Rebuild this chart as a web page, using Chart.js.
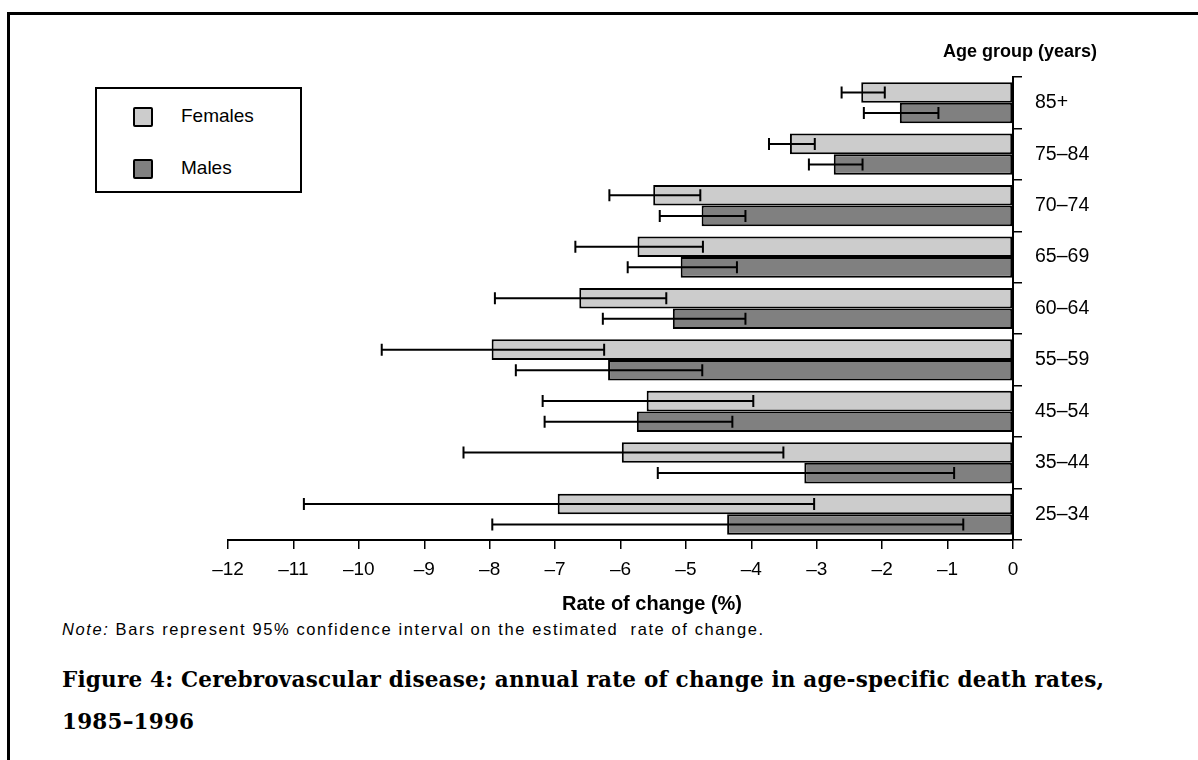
<!DOCTYPE html>
<html>
<head>
<meta charset="utf-8">
<script src="https://cdn.jsdelivr.net/npm/chart.js@4/dist/chart.umd.min.js"></script>
<style>
  body { margin: 0; background: #fff; font-family: "Liberation Sans", Arial, sans-serif; }
  #page { position: relative; width: 1198px; height: 760px; overflow: hidden; }
  #frame { position: absolute; left: 7px; top: 12px; width: 1400px; height: 900px;
           border-top: 3px solid #000; border-left: 3px solid #000; }
  #chart { position: absolute; left: 0; top: 0; }
  #ytitle { position: absolute; left: 943px; top: 41px; font-weight: bold; font-size: 18px; color: #000; }
  #xtitle { position: absolute; left: 552px; width: 200px; top: 592px; text-align: center;
            font-weight: bold; font-size: 20px; color: #000; white-space: nowrap; }
  #legend { position: absolute; left: 95px; top: 87px; width: 203px; height: 102px;
            border: 2px solid #000; background: #fff; }
  .item { position: absolute; left: 36px; font-size: 19px; color: #000; }
  .swatch { position: absolute; left: 0; width: 16px; height: 16px; border: 2px solid #000; border-radius: 2px; }
  .item span.lbl { position: absolute; left: 48px; top: -2px; white-space: nowrap; }
  #note { position: absolute; left: 62px; top: 620px; font-size: 16.5px; letter-spacing: 1.6px; color: #000; white-space: pre; }
  #caption { position: absolute; left: 62px; top: 659px; font-family: "DejaVu Serif", "Liberation Serif", serif;
             font-weight: bold; font-size: 21.5px; letter-spacing: 0.2px; line-height: 42px; color: #000; white-space: nowrap; }
</style>
</head>
<body>
<div id="page">
  <div id="frame"></div>
  <canvas id="chart" width="1198" height="620"></canvas>
  <div id="ytitle">Age group (years)</div>
  <div id="xtitle">Rate of change (%)</div>
  <div id="legend"></div>
  <div id="note"><i>Note:</i> Bars represent 95% confidence interval on the estimated  rate of change.</div>
  <div id="caption">Figure 4: Cerebrovascular disease; annual rate of change in age-specific death rates,<br>1985–1996</div>
</div>
<script>
const ageGroups = ["85+", "75–84", "70–74", "65–69", "60–64", "55–59", "45–54", "35–44", "25–34"];

const femaleRate = [-2.32, -3.41, -5.50, -5.74, -6.63, -7.97, -5.60, -5.98, -6.96];
const femaleLow  = [-2.62, -3.73, -6.17, -6.69, -7.92, -9.65, -7.19, -8.40, -10.84];
const femaleHigh = [-1.96, -3.03, -4.78, -4.74, -5.30, -6.25, -3.97, -3.51, -3.04];

const maleRate = [-1.73, -2.74, -4.76, -5.08, -5.20, -6.19, -5.75, -3.19, -4.37];
const maleLow  = [-2.28, -3.12, -5.40, -5.89, -6.27, -7.60, -7.16, -5.43, -7.96];
const maleHigh = [-1.14, -2.30, -4.09, -4.22, -4.09, -4.75, -4.29, -0.90, -0.76];

const xTicks = [-12, -11, -10, -9, -8, -7, -6, -5, -4, -3, -2, -1, 0];

// draws the 95% CI whiskers on top of each bar
const errorBars = {
  id: "errorBars",
  afterDatasetsDraw(chart) {
    const ctx = chart.ctx;
    const x = chart.scales.x;
    ctx.save();
    ctx.strokeStyle = "#000";
    ctx.lineWidth = 2;
    chart.data.datasets.forEach((ds, i) => {
      const meta = chart.getDatasetMeta(i);
      meta.data.forEach((bar, j) => {
        const x1 = x.getPixelForValue(ds.errLow[j]);
        const x2 = x.getPixelForValue(ds.errHigh[j]);
        const y = bar.y;
        const cap = 6;
        ctx.beginPath();
        ctx.moveTo(x1, y); ctx.lineTo(x2, y);
        ctx.moveTo(x1, y - cap); ctx.lineTo(x1, y + cap);
        ctx.moveTo(x2, y - cap); ctx.lineTo(x2, y + cap);
        ctx.stroke();
      });
    });
    ctx.restore();
  }
};

const chart = new Chart(document.getElementById("chart"), {
  type: "bar",
  data: {
    labels: ageGroups,
    datasets: [
      {
        label: "Females",
        data: femaleRate,
        errLow: femaleLow,
        errHigh: femaleHigh,
        backgroundColor: "#cccccc",
        borderColor: "#000",
        borderWidth: 2,
        borderSkipped: false
      },
      {
        label: "Males",
        data: maleRate,
        errLow: maleLow,
        errHigh: maleHigh,
        backgroundColor: "#808080",
        borderColor: "#000",
        borderWidth: 2,
        borderSkipped: false
      }
    ]
  },
  options: {
    indexAxis: "y",
    responsive: false,
    animation: false,
    categoryPercentage: 0.8,
    barPercentage: 1,
    layout: { padding: { left: 228, right: 85, top: 77, bottom: 0 } },
    plugins: { legend: { display: false }, tooltip: { enabled: false } },
    scales: {
      x: {
        min: -12,
        max: 0,
        afterBuildTicks: s => { s.ticks = xTicks.map(v => ({ value: v })); },
        afterFit: s => { s.height = 80; },
        ticks: {
          color: "#000",
          font: { family: "Liberation Sans", size: 19 },
          padding: 9,
          maxRotation: 0,
          callback: v => (v < 0 ? "\u2013" + Math.abs(v) : String(v))
        },
        grid: { drawOnChartArea: false, drawTicks: true, tickLength: 9, color: "#000", lineWidth: 1.5 },
        border: { color: "#000", width: 2 }
      },
      y: {
        position: "right",
        afterFit: s => { s.width = 100; },
        ticks: {
          color: "#000",
          font: { family: "Liberation Sans", size: 19.5 },
          padding: 13
        },
        grid: { drawOnChartArea: false, drawTicks: true, tickLength: 9, color: "#000", lineWidth: 1.5 },
        border: { color: "#000", width: 2 }
      }
    }
  },
  plugins: [errorBars]
});

// legend box built from the datasets
const legend = document.getElementById("legend");
chart.data.datasets.forEach((ds, i) => {
  const item = document.createElement("div");
  item.className = "item";
  item.style.top = (18 + i * 52) + "px";
  item.innerHTML = '<div class="swatch" style="background:' + ds.backgroundColor + '"></div><span class="lbl">' + ds.label + "</span>";
  legend.appendChild(item);
});
</script>
</body>
</html>
